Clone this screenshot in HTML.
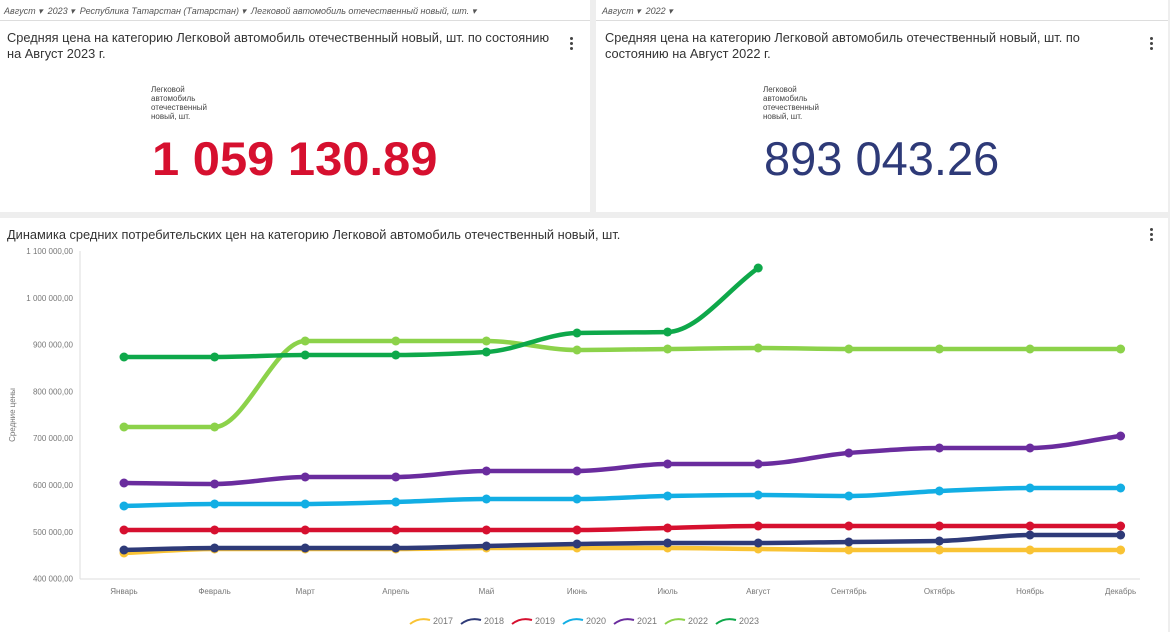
<!DOCTYPE html>
<html><head><meta charset="utf-8"><style>
body{margin:0;width:1170px;height:632px;background:#eeeeee;font-family:"Liberation Sans",sans-serif;overflow:hidden;position:relative}
.p{position:absolute;background:#fff}
.flt{position:absolute;font-size:9px;font-style:italic;color:#555;top:6px}
.t{position:absolute;font-size:12.8px;color:#333;line-height:16px}
.dots{position:absolute;width:3px}
.dots i{display:block;width:3px;height:3px;border-radius:50%;background:#444;margin-bottom:2px}
.sm{position:absolute;font-size:8px;color:#444;line-height:9px}
.big{position:absolute;font-size:47px;font-weight:bold}
</style></head><body>
<div class="p" style="left:0;top:0;width:590px;height:212px"></div>
<div class="p" style="left:596px;top:0;width:572px;height:212px"></div>
<div style="position:absolute;left:0;top:20px;width:590px;height:1px;background:#ddd"></div>
<div style="position:absolute;left:596px;top:20px;width:572px;height:1px;background:#ddd"></div>
<div class="flt" style="left:4px">Август ▾ &nbsp;2023 ▾ &nbsp;Республика Татарстан (Татарстан) ▾ &nbsp;Легковой автомобиль отечественный новый, шт. ▾</div>
<div class="flt" style="left:602px">Август ▾ &nbsp;2022 ▾</div>
<div class="t" style="left:7px;top:30px;width:550px">Средняя цена на категорию Легковой автомобиль отечественный новый, шт. по состоянию на Август 2023 г.</div>
<div class="t" style="left:605px;top:30px;width:490px">Средняя цена на категорию Легковой автомобиль отечественный новый, шт. по состоянию на Август 2022 г.</div>
<div class="dots" style="left:570px;top:37px"><i></i><i></i><i></i></div>
<div class="dots" style="left:1150px;top:37px"><i></i><i></i><i></i></div>
<div class="sm" style="left:151px;top:85px">Легковой<br>автомобиль<br>отечественный<br>новый, шт.</div>
<div class="sm" style="left:763px;top:85px">Легковой<br>автомобиль<br>отечественный<br>новый, шт.</div>
<div class="big" style="left:152px;top:131px;color:#d6102f;transform:scaleX(1.04);transform-origin:left">1 059 130.89</div>
<div class="big" style="left:764px;top:131px;color:#2e3a78;font-weight:normal">893 043.26</div>
<div class="p" style="left:0;top:218px;width:1168px;height:414px"></div>
<div class="t" style="left:7px;top:227px">Динамика средних потребительских цен на категорию Легковой автомобиль отечественный новый, шт.</div>
<div class="dots" style="left:1150px;top:228px"><i></i><i></i><i></i></div>
<svg id="s" width="1170" height="632" style="position:absolute;left:0;top:0" font-family="Liberation Sans, sans-serif"></svg>
<script>
var s=document.getElementById('s'),h='';
h+='<line x1="80" y1="251" x2="80" y2="579" stroke="#ddd"/><line x1="80" y1="579" x2="1140" y2="579" stroke="#ddd"/>';
for(var i=0;i<8;i++){var v=1100000-i*100000,y=251+i*46.8;var t=(v+'').replace(/\B(?=(\d{3})+(?!\d))/g,' ')+',00';h+='<text x="73" y="'+(y+3)+'" font-size="8" fill="#777" text-anchor="end">'+t+'</text>';}
h+='<text x="15" y="415" font-size="8" fill="#777" text-anchor="middle" transform="rotate(-90 15 415)">Средние цены</text>';
var m=['Январь','Февраль','Март','Апрель','Май','Июнь','Июль','Август','Сентябрь','Октябрь','Ноябрь','Декабрь'];
function X(i){return 124+i*90.6}
m.forEach(function(n,i){h+='<text x="'+X(i)+'" y="594" font-size="8" fill="#777" text-anchor="middle">'+n+'</text>'});
var D=[['#f9c334',[553,549,549,549,548,548,548,549,550,550,550,550]],
['#2e3a78',[550,548,548,548,546,544,543,543,542,541,535,535]],
['#d6102f',[530,530,530,530,530,530,528,526,526,526,526,526]],
['#12aee4',[506,504,504,502,499,499,496,495,496,491,488,488]],
['#6a2c9e',[483,484,477,477,471,471,464,464,453,448,448,436]],
['#8cd24a',[427,427,341,341,341,350,349,348,349,349,349,349]],
['#0ea84a',[357,357,355,355,352,333,332,268]]];
D.forEach(function(d){var p=d[1],n=p.length,dl=[],mt=[];
for(var i=0;i<n-1;i++)dl.push(p[i+1]-p[i]);
for(var i=0;i<n;i++){if(i==0)mt.push(dl[0]);else if(i==n-1)mt.push(dl[n-2]);else if(dl[i-1]*dl[i]<=0)mt.push(0);else mt.push(2/(1/dl[i-1]+1/dl[i]));}
var q='M'+X(0)+','+p[0];
for(var i=0;i<n-1;i++){q+=' C'+(X(i)+30.2)+','+(p[i]+mt[i]/3)+' '+(X(i+1)-30.2)+','+(p[i+1]-mt[i+1]/3)+' '+X(i+1)+','+p[i+1];}
h+='<path d="'+q+'" fill="none" stroke="'+d[0]+'" stroke-width="4.5" stroke-linecap="round"/>';
p.forEach(function(y,i){h+='<circle cx="'+X(i)+'" cy="'+y+'" r="4.5" fill="'+d[0]+'"/>'});});
var yr=['2017','2018','2019','2020','2021','2022','2023'];
yr.forEach(function(y,i){var x=410+i*51;h+='<path d="M'+x+',624 q9,-7 20,-4" stroke="'+D[i][0]+'" stroke-width="2" fill="none"/><text x="'+(x+23)+'" y="624" font-size="9" fill="#777">'+y+'</text>'});
s.innerHTML=h;
</script>
</body></html>
